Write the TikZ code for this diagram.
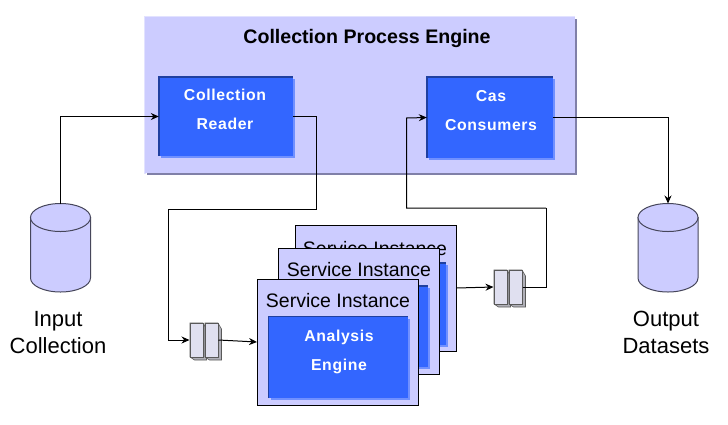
\documentclass[tikz,border=0pt]{standalone}
\usepackage{fontspec}
\setmainfont{Liberation Sans}
\newfontfamily\boxfont[LetterSpace=4]{Liberation Sans}
\usetikzlibrary{arrows.meta,shapes.geometric,shadows,positioning}
\definecolor{cpelilac}{RGB}{204,204,255}
\definecolor{cpeedge}{RGB}{128,128,168}
\definecolor{cpelight}{RGB}{226,226,255}
\definecolor{aeblue}{RGB}{51,102,255}
\definecolor{aedark}{RGB}{32,64,160}
\definecolor{aelight}{RGB}{112,144,255}
\definecolor{slabface}{RGB}{224,224,240}
\definecolor{slabside}{RGB}{176,176,184}
\definecolor{storeline}{RGB}{70,70,90}
\tikzset{
  arrow/.style={line width=1pt,-{Stealth[length=8pt,width=7pt]},black},
  wire/.style={line width=1pt,black},
  cpebox/.style={rectangle,fill=cpelilac,inner sep=0pt,minimum width=430pt,minimum height=156pt,
    drop shadow={shadow xshift=2pt,shadow yshift=-2pt,fill=cpeedge,opacity=1}},
  aebox/.style={rectangle,fill=aeblue,inner sep=0pt,
    drop shadow={shadow xshift=2pt,shadow yshift=-2pt,fill=aelight,opacity=1}},
  instance/.style={rectangle,draw=black,line width=1pt,fill=cpelilac,inner sep=0pt,minimum width=161pt,minimum height=126pt},
  storetop/.style={ellipse,draw=storeline,line width=1pt,fill=cpelilac,inner sep=0pt,outer sep=0pt,minimum width=60pt,minimum height=28pt},
  slab/.style={rectangle,draw=black!65,line width=1pt,fill=slabface,inner sep=0pt,minimum width=13pt,minimum height=34pt},
  edge/.style={aedark,line width=1.5pt},
  whitetext/.style={text=white,font=\boxfont\bfseries\fontsize{15.8}{29}\selectfont,align=center},
  sitext/.style={font=\fontsize{19.5}{23}\selectfont},
  storetext/.style={font=\fontsize{22}{27}\selectfont,align=center}
}
% one slab of a queue: side faces first, then the front
\newcommand{\queueslab}[3]{
  \filldraw[draw=black!65,fill=slabside,line width=.6pt] (#2-6.5,#3-17) -- (#2+6.5,#3-17) -- (#2+10,#3-11) -- (#2+10,#3+20) -- (#2-2,#3+20) -- (#2-6.5,#3+17) -- cycle;
  \node (#1) [slab] at (#2,#3) {};
}
% a store: body with its rounded foot, then the top ellipse
\newcommand{\storedrum}[2]{
  \filldraw[draw=storeline,fill=cpelilac,line width=1pt] (#2-30,217.5) -- (#2-30,278) arc[start angle=180,end angle=360,x radius=30pt,y radius=14pt] -- (#2+30,217.5) -- cycle;
  \node (#1) [storetop] at (#2,217.5) {};
}
\begin{document}
\begin{tikzpicture}[x=1pt,y=-1pt]
\useasboundingbox (0,0) rectangle (728,424);
% Collection Process Engine
\draw[cpelight,line width=2pt] (145,174) -- (145,17) -- (575,17);
\node (cpe) [cpebox] at (360,95) {};
\node (cpetitle) at (367,38) {\fontsize{19.6}{22}\selectfont\bfseries Collection Process Engine};
\node (reader) [aebox,minimum width=134pt,minimum height=79pt] at (226,116.5) {};
\draw[edge] (reader.south west) -- (reader.north west) -- (reader.north east);
\node (readertext) [whitetext] at (225,109.5) {Collection\\Reader};
\node (consumers) [aebox,minimum width=126pt,minimum height=81pt] at (490,117.5) {};
\draw[edge] (consumers.south west) -- (consumers.north west) -- (consumers.north east);
\node (consumerstext) [whitetext] at (491,110.5) {Cas\\Consumers};

% Service instances, back to front
\node (sithree) [instance] at (375.5,288) {};
\node (sithreetext) [sitext] at (375,249) {Service Instance};
\node (aethree) [aebox,minimum width=139pt,minimum height=82pt] at (376.5,304) {};
\draw[edge] (aethree.south west) -- (aethree.north west) -- (aethree.north east);
\node (sitwo) [instance] at (359,311) {};
\node (sitwotext) [sitext] at (359,270) {Service Instance};
\node (aetwo) [aebox,minimum width=139pt,minimum height=81pt] at (358.5,326.5) {};
\draw[edge] (aetwo.south west) -- (aetwo.north west) -- (aetwo.north east);
\node (sione) [instance] at (338,342) {};
\node (sionetext) [sitext] at (338,301) {Service Instance};
\node (aeone) [aebox,minimum width=139pt,minimum height=81pt] at (338.5,357.5) {};
\draw[aedark,line width=1pt] (aeone.south west) -- (aeone.north west) -- (aeone.north east);
\node (aetext) [whitetext] at (339,351.5) {Analysis\\Engine};

% Queues
\queueslab{qina}{196.5}{340}
\queueslab{qinb}{211.5}{340}
\queueslab{qouta}{500.5}{287}
\queueslab{qoutb}{515.5}{287}

% Stores
\storedrum{input}{60.5}
\node (inputtext) [storetext] at (58,332.5) {Input\\Collection};
\storedrum{output}{668}
\node (outputtext) [storetext] at (666,332.5) {Output\\Datasets};

% Bend points
\coordinate (readerdown) at (316.5,209);
\coordinate (qindown) at (168,340);
\coordinate (qoutup) at (546,208);
\coordinate (consumersup) at (406.5,118);

\draw[arrow] (input.north) |- (reader.west);
\draw[arrow] (reader.east) -| (readerdown) -| (qindown) -- (qina.west);
\draw[arrow] (qinb.east) -- (sione.west);
\draw[arrow] (sithree.east) -- (qouta.west);
\draw[wire] (qoutb.east) -| (qoutup);
\draw[arrow] (qoutup) -| (consumersup) -- (consumers.west);
\draw[arrow] (consumers.east) -| (output.north);
\end{tikzpicture}
\end{document}
